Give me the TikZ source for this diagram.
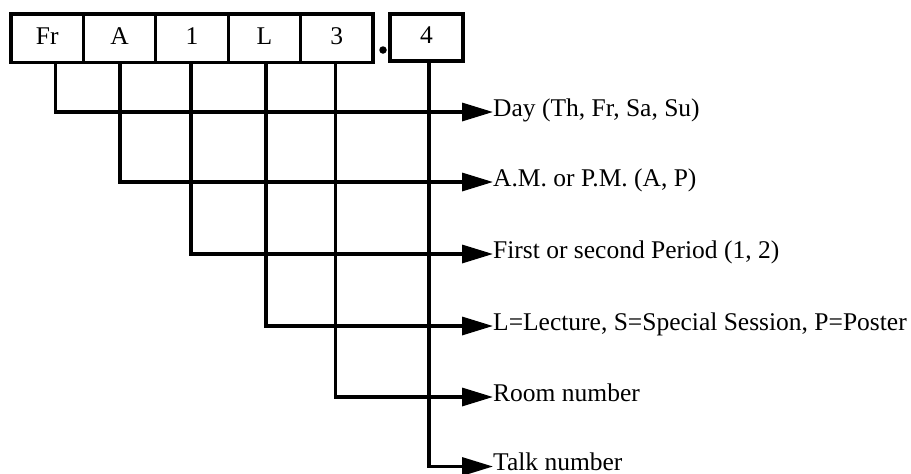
\documentclass[tikz,border=0pt]{standalone}
\usepackage{fontspec}
\setmainfont{Liberation Serif}
\usetikzlibrary{arrows.meta}
\begin{document}
\begin{tikzpicture}[x=1pt,y=-1pt,
  cell/.style={draw,line width=3.3pt,minimum width=72.4pt,minimum height=48.5pt,inner sep=0pt,outer sep=0pt,text height=17pt,text depth=5pt,font=\fontsize{25.5}{30}\selectfont},
  lab/.style={anchor=west,inner sep=0pt,text height=17pt,text depth=9pt,font=\fontsize{25.5}{30}\selectfont},
  conn/.style={line width=3.3pt,-{Triangle[length=31pt,width=18pt]}}]
\useasboundingbox (0,0) rectangle (911,474);
\node[cell] (fr) at (47.2,38.2) {Fr};
\node[cell] (a)  at (119.6,38.2) {A};
\node[cell] (one) at (192,38.2) {1};
\node[cell] (l)  at (264.4,38.2) {L};
\node[cell] (three) at (336.8,38.2) {3};
\node[circle,fill,inner sep=0pt,minimum size=7.5pt] (dot) at (383,50) {};
\node[cell,minimum width=73pt,minimum height=47pt] (four) at (426.5,37.5) {4};
\node[lab] (day) at (493,112) {Day (Th, Fr, Sa, Su)};
\node[lab] (ampm) at (493,182) {A.M. or P.M. (A, P)};
\node[lab] (period) at (493,254) {First or second Period (1, 2)};
\node[lab] (type) at (493,326) {L=Lecture, S=Special Session, P=Poster};
\node[lab] (room) at (493,397) {Room number};
\node[lab] (talk) at (493,466.5) {Talk number};
\draw[conn] ([xshift=8pt]fr.south) |- (day.west);
\draw[conn] ([xshift=0.4pt]a.south) |- (ampm.west);
\draw[conn] ([xshift=-1pt]one.south) |- (period.west);
\draw[conn] ([xshift=1.6pt]l.south) |- (type.west);
\draw[conn] ([xshift=-1.3pt]three.south) |- (room.west);
\draw[conn] ([xshift=2.5pt]four.south) |- (talk.west);
\end{tikzpicture}
\end{document}
